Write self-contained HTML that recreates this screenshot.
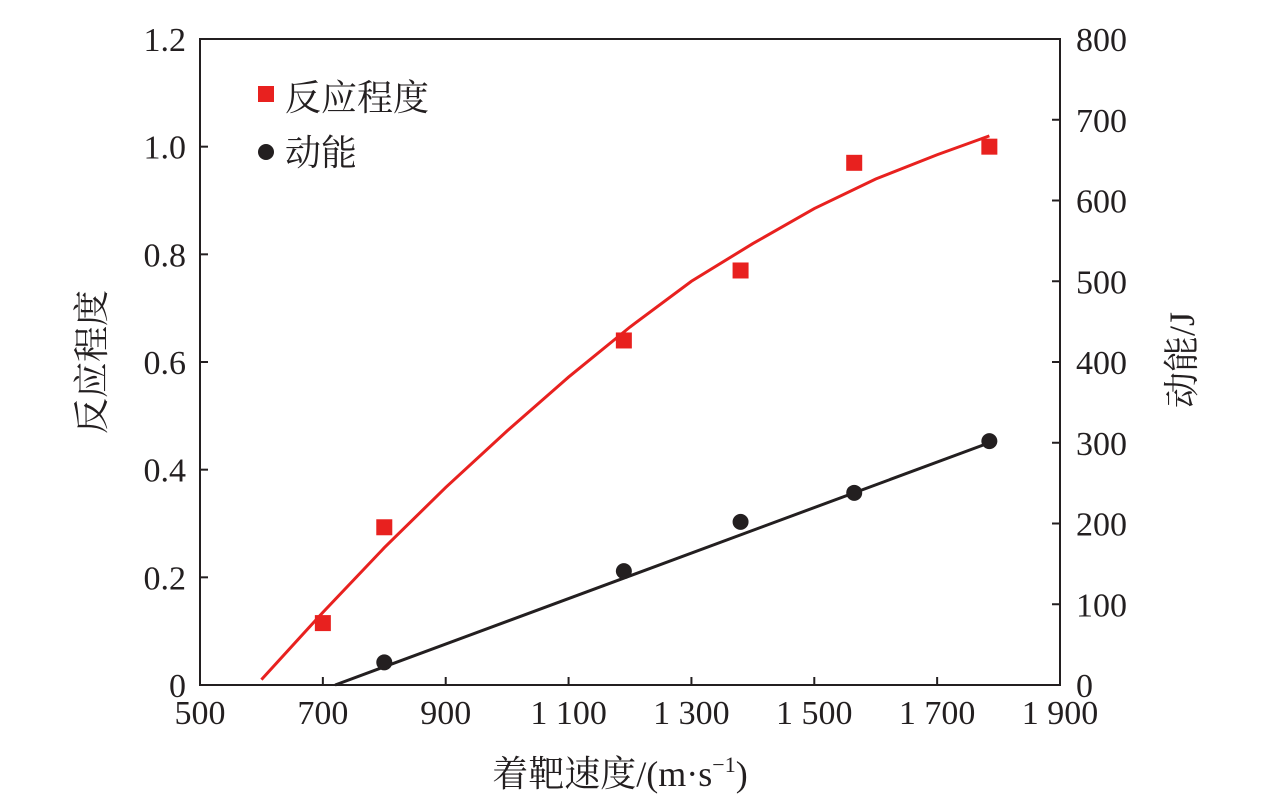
<!DOCTYPE html>
<html><head><meta charset="utf-8"><style>
body{margin:0;background:#fff;}
svg text{font-family:"Liberation Serif","Noto Serif CJK SC",serif;fill:#231f20;}
</style></head><body>
<svg id="c" width="1276" height="802" viewBox="0 0 1276 802"></svg>
<script>
const xTicks=[500,700,900,1100,1300,1500,1700,1900];
const xTickLabels=["500","700","900","1 100","1 300","1 500","1 700","1 900"];
const yLeftTicks=[0,0.2,0.4,0.6,0.8,1.0,1.2];
const yLeftLabels=["0","0.2","0.4","0.6","0.8","1.0","1.2"];
const yRightTicks=[0,100,200,300,400,500,600,700,800];
const reactX=[700,800,1190,1380,1565,1785];
const reactY=[0.115,0.293,0.64,0.77,0.97,1.0];
const energyX=[800,1190,1380,1565,1785];
const energyY=[28,141,202,238,302];
const reactFitX=[600,700,800,900,1000,1100,1200,1300,1400,1500,1600,1700,1785];
const reactFitY=[0.01,0.135,0.255,0.367,0.472,0.572,0.665,0.75,0.82,0.885,0.94,0.985,1.02];
const energyFitX=[720,1785];
const energyFitY=[0,300];

const L=200,R=1060,T=39,B=685;
const sx=v=>L+(v-500)/1400*(R-L);
const syL=v=>B-v/1.2*(B-T);
const syR=v=>B-v/800*(B-T);
const svg=document.getElementById('c');
const NS='http://www.w3.org/2000/svg';
function mk(tag,attrs,parent){const e=document.createElementNS(NS,tag);for(const k in attrs)e.setAttribute(k,attrs[k]);(parent||svg).appendChild(e);return e;}

const frame=mk('rect',{x:L,y:T,width:R-L,height:B-T,fill:'none',stroke:'#231f20','stroke-width':2});



xTicks.forEach((v,i)=>{
  const x=sx(v);
  const t=mk('line',{x1:x,y1:B,x2:x,y2:B-8,stroke:'#231f20','stroke-width':2});
  
  
  const tx=mk('text',{x:x,y:B+39,'text-anchor':'middle','font-size':34});
  tx.textContent=xTickLabels[i];
  
  
});
yLeftTicks.forEach((v,i)=>{
  const y=syL(v);
  const t=mk('line',{x1:L,y1:y,x2:L+8,y2:y,stroke:'#231f20','stroke-width':2});
  
  
  const tx=mk('text',{x:L-14,y:y+12,'text-anchor':'end','font-size':34});
  tx.textContent=yLeftLabels[i];
  
  
});
yRightTicks.forEach(v=>{
  const y=syR(v);
  const t=mk('line',{x1:R,y1:y,x2:R-8,y2:y,stroke:'#231f20','stroke-width':2});
  
  
  const tx=mk('text',{x:R+16,y:y+12,'text-anchor':'start','font-size':34});
  tx.textContent=String(v);
  
  
});

const rp=mk('polyline',{points:reactFitX.map((x,i)=>sx(x)+','+syL(reactFitY[i])).join(' '),fill:'none',stroke:'#e8211f','stroke-width':3});


const ep=mk('polyline',{points:energyFitX.map((x,i)=>sx(x)+','+syR(energyFitY[i])).join(' '),fill:'none',stroke:'#231f20','stroke-width':3});



reactX.forEach((x,i)=>{
  const r=mk('rect',{x:sx(x)-8,y:syL(reactY[i])-8,width:16,height:16,fill:'#e8211f'});
  
  
});
energyX.forEach((x,i)=>{
  const c=mk('circle',{cx:sx(x),cy:syR(energyY[i]),r:8,fill:'#231f20'});
  
  
});

const lg1=mk('rect',{x:258,y:86,width:16,height:16,fill:'#e8211f'});


const lt1=mk('text',{x:285,y:110,'font-size':36});
lt1.textContent='反应程度';


const lg2=mk('circle',{cx:266,cy:152,r:8,fill:'#231f20'});


const lt2=mk('text',{x:285,y:165,'font-size':36});
lt2.textContent='动能';



const xt=mk('text',{x:620,y:786,'text-anchor':'middle','font-size':36});
xt.innerHTML='着靶速度/(m·s<tspan dy="-14" font-size="22">−1</tspan><tspan dy="14">)</tspan>';


const yt=mk('text',{x:0,y:0,'text-anchor':'middle','font-size':36,transform:'translate(104,362) rotate(-90)'});
yt.textContent='反应程度';


const yr=mk('text',{x:0,y:0,'text-anchor':'middle','font-size':36,transform:'translate(1194,360) rotate(-90)'});
yr.textContent='动能/J';


</script>
</body></html>
